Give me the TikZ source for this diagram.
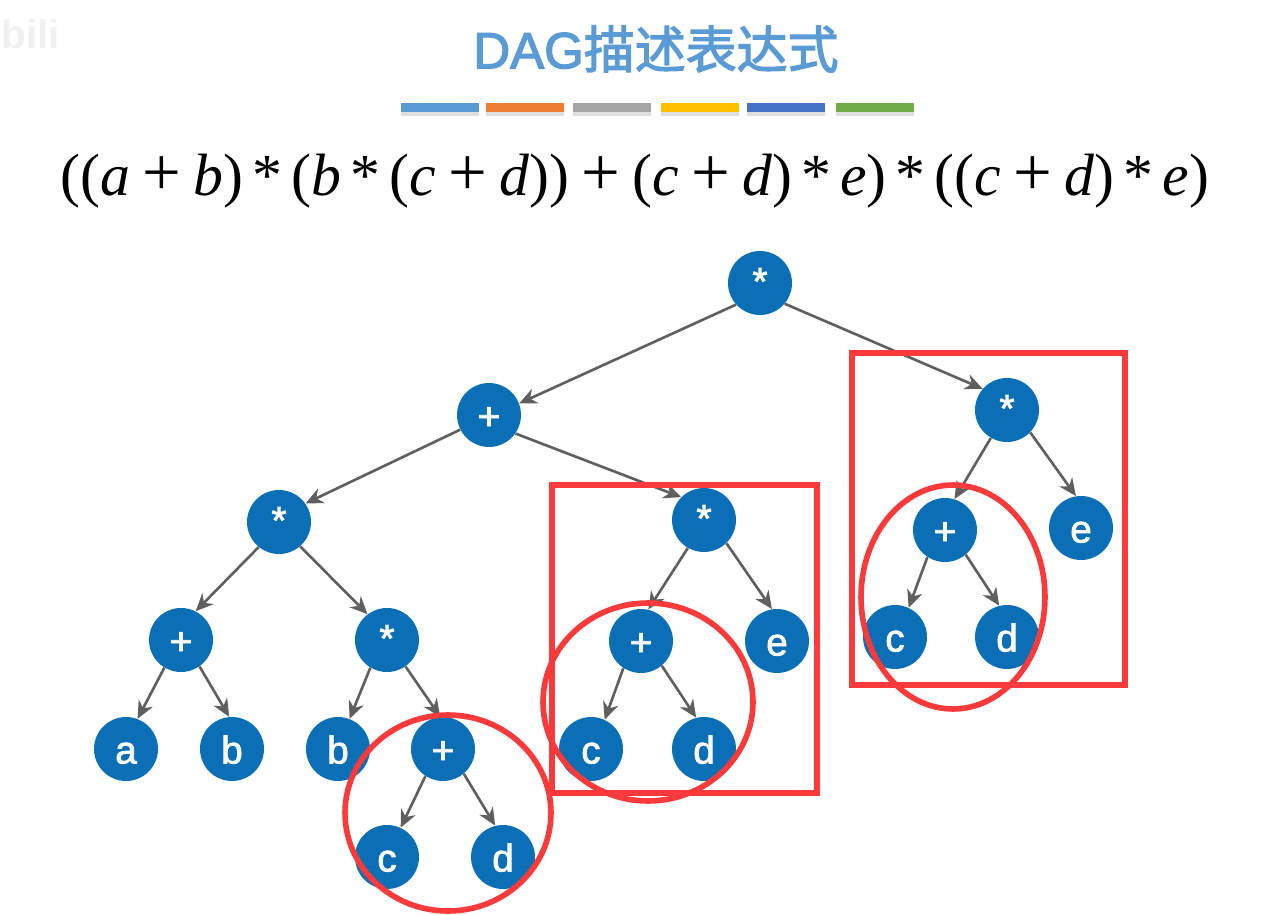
\documentclass[tikz,border=0pt]{standalone}
\usepackage{fontspec}
\usepackage{xcolor}
\setmainfont{Liberation Sans}
\newfontfamily\cjkfont[FakeBold=2.5]{Noto Sans CJK SC}
\newfontfamily\dagfont[FakeBold=2.5]{Liberation Sans}
\newfontfamily\nodefont[FakeBold=2]{Liberation Sans}
\newfontfamily\exprfont{Liberation Serif}
\usetikzlibrary{arrows.meta,shapes.geometric,shadows}
\definecolor{titleblue}{HTML}{5B9BD5}
\definecolor{barorange}{HTML}{ED7D31}
\definecolor{bargray}{HTML}{A5A5A5}
\definecolor{baryellow}{HTML}{FFC000}
\definecolor{barblue}{HTML}{4472C4}
\definecolor{bargreen}{HTML}{70AD47}
\definecolor{nodeblue}{HTML}{0A6FB4}
\definecolor{edgegray}{HTML}{5F5F5F}
\definecolor{markred}{HTML}{FB3A3C}
% spacing and glyphs of the expression
\newcommand{\plusop}{\kern 7pt\scalebox{1.15}{+}\kern 7pt}
\newcommand{\timesop}{\kern 5.2pt*\kern 5.2pt}
\newcommand{\ltr}[1]{\textit{#1}}
\newcommand{\starmark}{\raisebox{1.6pt}{*}}

\begin{document}
\begin{tikzpicture}[x=0.02cm,y=-0.02cm,
    treenode/.style={circle,fill=nodeblue,text=white,inner sep=0pt,minimum size=1.28cm,text height=16.5pt,text depth=0pt,font=\nodefont\fontsize{22}{24}\selectfont},
    treeedge/.style={draw=edgegray,line width=1.5pt,-{Stealth[length=10pt,width=9pt]}},
    colorbar/.style={fill=#1,minimum width=1.56cm,minimum height=0.18cm,inner sep=0pt,drop shadow={shadow xshift=0pt,shadow yshift=-2pt,opacity=0.25}},
    redframe/.style={draw=markred,line width=3.2pt,inner sep=0pt,outer sep=0pt},
    redring/.style={draw=markred,line width=3.2pt,ellipse,inner sep=0pt,outer sep=0pt}]

    \useasboundingbox (0,0) rectangle (1278,915);

    % watermark
    \node (mark) at (31,34) [text=black!6,font=\bfseries\fontsize{23}{26}\selectfont] {bili};

    % title and colour bars
    \node (title) at (656,49) [text=titleblue,font=\fontsize{29}{34}\selectfont] {{\dagfont DAG}{\cjkfont 描述表达式}};
    \node (barA) at (440,108) [colorbar=titleblue] {};
    \node (barB) at (525,108) [colorbar=barorange] {};
    \node (barC) at (612,108) [colorbar=bargray] {};
    \node (barD) at (700,108) [colorbar=baryellow] {};
    \node (barE) at (786,108) [colorbar=barblue] {};
    \node (barF) at (875,108) [colorbar=bargreen] {};

    % expression
    \node (expr) at (635,181) [font=\exprfont\fontsize{34}{36}\selectfont] {((\ltr{a}\plusop\ltr{b})\timesop(\ltr{b}\timesop(\ltr{c}\plusop\ltr{d}))\plusop(\ltr{c}\plusop\ltr{d})\timesop\ltr{e})\timesop((\ltr{c}\plusop\ltr{d})\timesop\ltr{e})};

    % tree nodes
    \node (root) at (760,283) [treenode] {\starmark};
    \node (plusL) at (489,415) [treenode] {+};
    \node (starL) at (279,522) [treenode] {\starmark};
    \node (plusAB) at (181,640) [treenode] {+};
    \node (starB) at (387,640) [treenode] {\starmark};
    \node (leafA) at (126,749) [treenode] {a};
    \node (leafB) at (232,749) [treenode] {b};
    \node (leafBB) at (338,749) [treenode] {b};
    \node (plusCD) at (443,749) [treenode] {+};
    \node (leafC) at (387,857) [treenode] {c};
    \node (leafD) at (503,857) [treenode] {d};

    \node (starM) at (704,520) [treenode] {\starmark};
    \node (plusM) at (641,641) [treenode] {+};
    \node (leafEm) at (777,641) [treenode] {e};
    \node (leafCm) at (591,749) [treenode] {c};
    \node (leafDm) at (704,749) [treenode] {d};

    \node (starR) at (1007,410) [treenode] {\starmark};
    \node (plusR) at (945,530) [treenode] {+};
    \node (leafEr) at (1081,528) [treenode] {e};
    \node (leafCr) at (895,637) [treenode] {c};
    \node (leafDr) at (1007,637) [treenode] {d};

    % edges
    \draw[treeedge] (root.222) -- (plusL.21);
    \draw[treeedge] (root.-40) -- (starR.139);
    \draw[treeedge] (plusL.207) -- (starL.35);
    \draw[treeedge] (plusL.-35) -- (starM.135);
    \draw[treeedge] (starL.231) -- (plusAB.63);
    \draw[treeedge] (starL.-49) -- (starB.127);
    \draw[treeedge] (plusAB.239) -- (leafA.69);
    \draw[treeedge] (plusAB.-55) -- (leafB.95);
    \draw[treeedge] (starB.239) -- (leafBB.69);
    \draw[treeedge] (starB.-55) -- (plusCD.95);
    \draw[treeedge] (plusCD.237) -- (leafC.65);
    \draw[treeedge] (plusCD.-50) -- (leafD.104);

    \draw[treeedge] (starM.240) -- (plusM.77);
    \draw[treeedge] (starM.-46) -- (leafEm.99);
    \draw[treeedge] (plusM.237) -- (leafCm.65);
    \draw[treeedge] (plusM.-50) -- (leafDm.104);

    \draw[treeedge] (starR.240) -- (plusR.73);
    \draw[treeedge] (starR.-44) -- (leafEr.99);
    \draw[treeedge] (plusR.237) -- (leafCr.65);
    \draw[treeedge] (plusR.-50) -- (leafDr.104);

    % red marks
    \node (frameM) at (684.5,639) [redframe,minimum width=5.3cm,minimum height=6.16cm] {};
    \node (frameR) at (988.5,519) [redframe,minimum width=5.46cm,minimum height=6.64cm] {};
    \node (ringL) at (448,813) [redring,minimum width=4.12cm,minimum height=3.92cm] {};
    \node (ringM) at (648,702) [redring,minimum width=4.2cm,minimum height=3.96cm] {};
    \node (ringR) at (953,597) [redring,minimum width=3.68cm,minimum height=4.48cm] {};

\end{tikzpicture}
\end{document}
